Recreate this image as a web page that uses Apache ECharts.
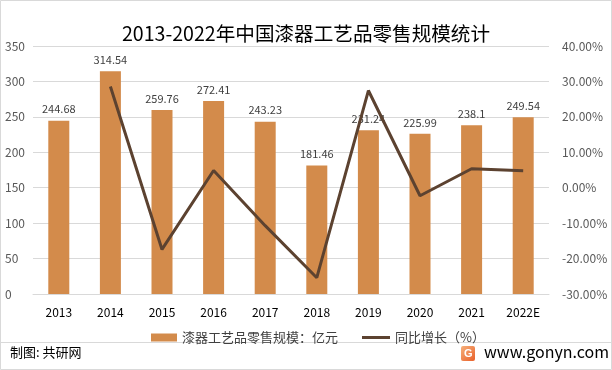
<!DOCTYPE html>
<html><head><meta charset="utf-8">
<script src="https://cdn.jsdelivr.net/npm/echarts@6/dist/echarts.min.js"></script>
<style>html,body{margin:0;padding:0;background:#fff}#c{width:612px;height:370px}</style>
</head><body><div id="c"></div>
<script>
var categories = ['2013','2014','2015','2016','2017','2018','2019','2020','2021','2022E'];
var retailScale = [244.68,314.54,259.76,272.41,243.23,181.46,231.24,225.99,238.1,249.54];
var yoyGrowth = [null,0.2855,-0.1742,0.0487,-0.1071,-0.2540,0.2743,-0.0227,0.0536,0.0480];
var leftTicks = {min:0,max:350,interval:50};
var rightTicks = {min:-0.3,max:0.4,interval:0.1};
var FONT = '"Microsoft YaHei","Noto Sans CJK SC",sans-serif';
var chart = echarts.init(document.getElementById('c'));
chart.setOption({
  animation:false,
  backgroundColor:'#fff',
  textStyle:{fontFamily:FONT},
  title:{text:'2013-2022年中国漆器工艺品零售规模统计',left:'center',top:19,
    textStyle:{fontSize:19.6,fontWeight:'normal',color:'#000',fontFamily:FONT}},
  grid:{left:33,right:63,top:46,bottom:76},
  legend:[
    {top:326,left:146,itemWidth:26,itemHeight:8,icon:'rect',
     textStyle:{fontSize:13,color:'#404040',fontFamily:FONT},
     data:['漆器工艺品零售规模：亿元']},
    {top:326,left:357,itemWidth:28,itemHeight:3,icon:'rect',itemGap:4,
     textStyle:{fontSize:13,color:'#404040',fontFamily:FONT},
     data:['同比增长（%）']}
  ],
  xAxis:{type:'category',data:categories,
    axisLine:{lineStyle:{color:'#d9d9d9'}},axisTick:{show:false},
    axisLabel:{color:'#000',fontSize:12,margin:12}},
  yAxis:[
    {type:'value',min:leftTicks.min,max:leftTicks.max,interval:leftTicks.interval,
     axisLine:{show:false},axisTick:{show:false},
     splitLine:{lineStyle:{color:'#d9d9d9'}},
     axisLabel:{color:'#595959',fontSize:12,margin:28,align:'left'}},
    {type:'value',min:rightTicks.min,max:rightTicks.max,interval:rightTicks.interval,
     axisLine:{show:false},axisTick:{show:false},splitLine:{show:false},
     axisLabel:{color:'#595959',fontSize:12,margin:13,
       formatter:function(v){return (v*100).toFixed(2)+'%';}}}
  ],
  series:[
    {name:'漆器工艺品零售规模：亿元',type:'bar',data:retailScale,barWidth:21,
     itemStyle:{color:'#d38b4b'},
     label:{show:true,position:'top',color:'#404040',fontSize:11,distance:6}},
    {name:'同比增长（%）',type:'line',yAxisIndex:1,data:yoyGrowth,
     showSymbol:false,symbol:'none',lineStyle:{color:'#5c4230',width:3},itemStyle:{color:'#5c4230'}}
  ],
  graphic:[
    {type:'rect',shape:{x:0.5,y:0.5,width:611,height:369},style:{fill:'none',stroke:'#d9d9d9',lineWidth:1},z:-1},
    {type:'line',shape:{x1:1,y1:342.5,x2:611,y2:342.5},style:{stroke:'#d9d9d9',lineWidth:1}},
    {type:'text',left:10,top:346,style:{text:'制图: 共研网',fontSize:13,fill:'#000',fontFamily:FONT}},
    {type:'rect',shape:{x:461,y:346,width:14,height:15,r:2},style:{fill:new echarts.graphic.LinearGradient(0,0,1,1,[{offset:0,color:'#f6b07a'},{offset:1,color:'#e9602a'}])}},
    {type:'text',left:464,top:348,style:{text:'G',fontSize:11,fontWeight:'bold',fill:'#fff',fontFamily:'Arial'}},
    {type:'text',left:484,top:344,style:{text:'www.gonyn.com',fontSize:16,fill:'#000',fontFamily:FONT}}
  ]
});
</script></body></html>
